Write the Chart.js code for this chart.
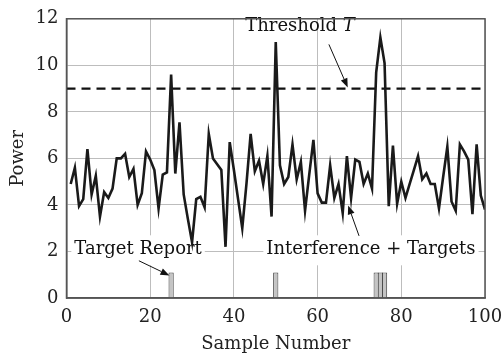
<!DOCTYPE html>
<html>
<head>
<meta charset="utf-8">
<script src="https://cdn.jsdelivr.net/npm/chart.js@4/dist/chart.umd.min.js"></script>
<style>
  html, body { margin: 0; padding: 0; background: #fff; }
  #wrap { width: 502px; height: 359px; }
</style>
</head>
<body>
<div id="wrap"><canvas id="c" width="502" height="359"></canvas></div>
<script>
// ---- data ----
const powerValues = [
  4.9, 5.6, 3.95, 4.25, 6.4, 4.45, 5.25, 3.5, 4.55, 4.3,
  4.7, 6.0, 6.0, 6.2, 5.2, 5.55, 4.0, 4.5, 6.3, 5.95,
  5.5, 3.85, 5.3, 5.4, 9.6, 5.35, 7.55, 4.45, 3.4, 2.4,
  4.25, 4.35, 3.9, 7.05, 6.0, 5.75, 5.5, 2.2, 6.7, 5.5,
  4.25, 3.0, 4.9, 7.05, 5.45, 5.9, 4.9, 6.1, 3.5, 11.0,
  5.7, 4.9, 5.2, 6.6, 5.1, 5.85, 3.75, 5.3, 6.8, 4.5,
  4.1, 4.1, 5.7, 4.3, 4.9, 3.65, 6.1, 4.3, 5.95, 5.85,
  4.9, 5.35, 4.7, 9.7, 11.2, 10.1, 3.95, 6.55, 4.05, 5.0,
  4.3, 4.9, 5.5, 6.1, 5.1, 5.35, 4.9, 4.9, 3.85, 5.2,
  6.5, 4.15, 3.75, 6.6, 6.3, 5.95, 3.6, 6.6, 4.4, 3.8
];
const sampleNumbers = powerValues.map((_, i) => i + 1);
const thresholdValue = 9;
const thresholdSpan = [0, 100];
const targetSamples = [25, 50, 74, 75, 76];
const targetHeights = [1.1, 1.1, 1.1, 1.1, 1.1];
const xTicks = [0, 20, 40, 60, 80, 100];
const yTicks = [0, 2, 4, 6, 8, 10, 12];
const labels = {
  threshold: "Threshold ",
  thresholdSym: "T",
  target: "Target Report",
  interference: "Interference + Targets",
  xTitle: "Sample Number",
  yTitle: "Power"
};

const SERIF = '"DejaVu Serif", "Liberation Serif", serif';
const NOTE_FONT = '18px ' + SERIF;
const NOTE_FONT_I = 'italic 18px ' + SERIF;

function arrow(ctx, x1, y1, x2, y2) {
  const ang = Math.atan2(y2 - y1, x2 - x1);
  const L = 9, W = 3.5;
  const bx = x2 - L * Math.cos(ang), by = y2 - L * Math.sin(ang);
  ctx.save();
  ctx.strokeStyle = '#111'; ctx.fillStyle = '#111'; ctx.lineWidth = 1;
  ctx.beginPath(); ctx.moveTo(x1, y1); ctx.lineTo(bx, by); ctx.stroke();
  ctx.beginPath();
  ctx.moveTo(x2, y2);
  ctx.lineTo(bx + W * Math.sin(ang), by - W * Math.cos(ang));
  ctx.lineTo(bx - W * Math.sin(ang), by + W * Math.cos(ang));
  ctx.closePath(); ctx.fill();
  ctx.restore();
}

const notes = {
  id: 'notes',
  beforeDatasetsDraw(chart) {
    const ctx = chart.ctx, xs = chart.scales.x, ys = chart.scales.y;
    ctx.save();
    ctx.font = NOTE_FONT;
    ctx.fillStyle = '#fff';
    [[labels.target, 17.1], [labels.interference, 72.75]].forEach(([t, xv]) => {
      const w = ctx.measureText(t).width;
      const cx = xs.getPixelForValue(xv), cy = ys.getPixelForValue(2.05);
      ctx.fillRect(cx - w / 2 - 3, cy - 15, w + 6, 30);
    });
    ctx.restore();
  },
  afterDatasetsDraw(chart) {
    const ctx = chart.ctx, xs = chart.scales.x, ys = chart.scales.y;
    ctx.save();
    ctx.fillStyle = '#111';
    ctx.textBaseline = 'middle';
    ctx.textAlign = 'center';
    ctx.font = NOTE_FONT;
    [[labels.target, 17.1], [labels.interference, 72.75]].forEach(([t, xv]) => {
      ctx.fillText(t, xs.getPixelForValue(xv), ys.getPixelForValue(2.1));
    });
    // Threshold T
    ctx.textAlign = 'left';
    const w1 = ctx.measureText(labels.threshold).width;
    ctx.font = NOTE_FONT_I;
    const w2 = ctx.measureText(labels.thresholdSym).width;
    const cx = xs.getPixelForValue(55.8), cy = ys.getPixelForValue(11.67);
    const sx = cx - (w1 + w2) / 2;
    ctx.font = NOTE_FONT;
    ctx.fillText(labels.threshold, sx, cy);
    ctx.font = NOTE_FONT_I;
    ctx.fillText(labels.thresholdSym, sx + w1, cy);
    ctx.restore();
    // arrows
    arrow(ctx, xs.getPixelForValue(62.7), ys.getPixelForValue(10.9), xs.getPixelForValue(67.2), ys.getPixelForValue(9.05));
    arrow(ctx, xs.getPixelForValue(17.3), ys.getPixelForValue(1.6), xs.getPixelForValue(24.6), ys.getPixelForValue(0.97));
    arrow(ctx, xs.getPixelForValue(69.9), ys.getPixelForValue(2.67), xs.getPixelForValue(67.3), ys.getPixelForValue(3.98));
  }
};

new Chart(document.getElementById('c'), {
  data: {
    datasets: [
      {
        type: 'line',
        data: sampleNumbers.map((x, i) => ({ x, y: powerValues[i] })),
        borderColor: '#1a1a1a', borderWidth: 2.6,
        pointRadius: 0, tension: 0, order: 1
      },
      {
        type: 'line',
        data: thresholdSpan.map(x => ({ x, y: thresholdValue })),
        borderColor: '#111', borderWidth: 2.2, borderDash: [9, 6],
        pointRadius: 0, order: 2
      },
      {
        type: 'bar',
        data: targetSamples.map((x, i) => ({ x, y: targetHeights[i] })),
        backgroundColor: '#c4c4c4', borderColor: '#444', borderWidth: 1,
        categoryPercentage: 1, barPercentage: 1.25, order: 3
      }
    ]
  },
  options: {
    responsive: false, animation: false,
    layout: { padding: { top: 14, right: 0, left: 0, bottom: 0 } },
    plugins: { legend: { display: false }, tooltip: { enabled: false } },
    scales: {
      x: {
        type: 'linear', min: 0, max: 100, offset: false,
        afterBuildTicks: s => { s.ticks = xTicks.map(v => ({ value: v })); },
        afterFit: s => { s.height = 61; s.paddingRight = 17; s.paddingLeft = 0; },
        grid: { color: '#bdbdbd', lineWidth: 1, drawTicks: false, offset: false },
        border: { color: '#555', width: 1.5 },
        ticks: { color: '#222', font: { family: SERIF, size: 18 }, padding: 9, maxRotation: 0 },
        title: { display: true, text: labels.xTitle, color: '#222', font: { family: SERIF, size: 18 }, padding: { top: 1 } }
      },
      y: {
        min: 0, max: 12,
        afterBuildTicks: s => { s.ticks = yTicks.map(v => ({ value: v })); },
        afterFit: s => { s.width = 66.5; },
        grid: { color: '#bdbdbd', lineWidth: 1, drawTicks: false },
        border: { color: '#555', width: 1.5 },
        ticks: { color: '#222', font: { family: SERIF, size: 18 }, padding: 8 },
        title: { display: true, text: labels.yTitle, color: '#222', font: { family: SERIF, size: 18 }, padding: { top: 8, bottom: 0 } }
      }
    }
  },
  plugins: [notes, {
    id: 'frame',
    afterDraw(chart) {
      const a = chart.chartArea, ctx = chart.ctx;
      ctx.save(); ctx.strokeStyle = '#555'; ctx.lineWidth = 1.5;
      ctx.strokeRect(a.left, a.top, a.right - a.left, a.bottom - a.top);
      ctx.restore();
    }
  }]
});
</script>
</body>
</html>
